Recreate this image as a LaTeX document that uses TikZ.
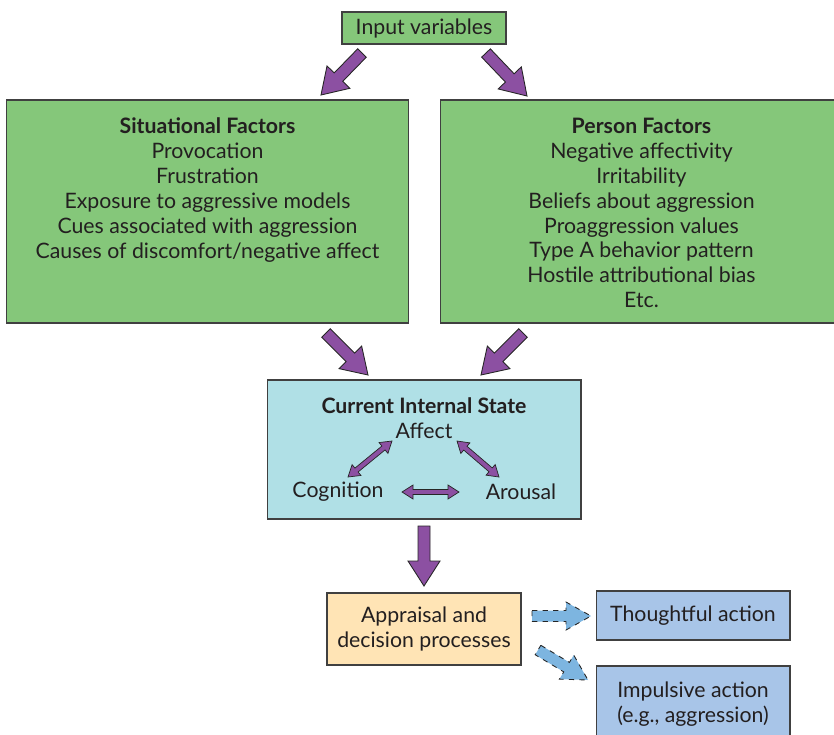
\documentclass[tikz,border=0pt]{standalone}
\usepackage{fontspec}
\setmainfont{Lato}
\usepackage{xcolor}
\usetikzlibrary{calc, positioning}

\definecolor{boxgreen}{RGB}{133,199,122}
\definecolor{statecyan}{RGB}{176,224,230}
\definecolor{appraisalpeach}{RGB}{255,228,181}
\definecolor{actionblue}{RGB}{168,197,232}
\definecolor{arrowpurple}{RGB}{140,80,162}
\definecolor{arrowblue}{RGB}{125,181,224}
\definecolor{inkgray}{RGB}{35,31,32}

% block arrow from #2 to #3, its sizes come from the style in #1
\newcommand{\fatarrow}[3][bigarrow]{%
  \draw[#1] ($(#2)!\aw!90:(#3)$)
    -- ($(#3)!\ahl!(#2)!\aw!-90:(#2)$)
    -- ($(#3)!\ahl!(#2)!\ahw!-90:(#2)$)
    -- (#3)
    -- ($(#3)!\ahl!(#2)!\ahw!90:(#2)$)
    -- ($(#3)!\ahl!(#2)!\aw!90:(#2)$)
    -- ($(#2)!\aw!-90:(#3)$) -- cycle;}
% same, with a head at both ends
\newcommand{\fatdblarrow}[3][smallarrow]{%
  \draw[#1] (#2)
    -- ($(#2)!\ahl!(#3)!\ahw!90:(#3)$)
    -- ($(#2)!\ahl!(#3)!\aw!90:(#3)$)
    -- ($(#3)!\ahl!(#2)!\aw!-90:(#2)$)
    -- ($(#3)!\ahl!(#2)!\ahw!-90:(#2)$)
    -- (#3)
    -- ($(#3)!\ahl!(#2)!\ahw!90:(#2)$)
    -- ($(#3)!\ahl!(#2)!\aw!90:(#2)$)
    -- ($(#2)!\ahl!(#3)!\aw!-90:(#3)$)
    -- ($(#2)!\ahl!(#3)!\ahw!-90:(#3)$) -- cycle;}

\tikzset{
  every node/.style={text=inkgray, font=\fontsize{12.1}{14.2}\selectfont},
  framebox/.style={draw=black!75, line width=0.6pt, inner sep=0pt},
  greenbox/.style={framebox, fill=boxgreen},
  boxtext/.style={align=center, inner sep=0pt},
  bigarrow/.style={draw=black!85, line width=0.5pt, fill=arrowpurple, line join=miter,
    /utils/exec={\def\aw{0.12cm}\def\ahw{0.32cm}\def\ahl{0.5cm}}},
  smallarrow/.style={draw=black!85, line width=0.4pt, fill=arrowpurple,
    /utils/exec={\def\aw{0.05cm}\def\ahw{0.14cm}\def\ahl{0.22cm}}},
  dasharrow/.style={draw=black!85, line width=0.5pt, dashed, fill=arrowblue,
    /utils/exec={\def\aw{0.11cm}\def\ahw{0.28cm}\def\ahl{0.5cm}}},
}

\begin{document}
\begin{tikzpicture}[x=0.02cm, y=-0.02cm]
  \useasboundingbox (0,0) rectangle (834,734);

  % boxes
  \node[greenbox, minimum width=3.28cm, minimum height=0.64cm] (input) at (424,28) {Input variables};
  \node[greenbox, minimum width=8.06cm, minimum height=4.46cm] (situational) at (207.5,211.5) {};
  \node[greenbox, minimum width=8.06cm, minimum height=4.46cm] (person) at (641.5,211.5) {};
  \node[boxtext, below=0.36cm of situational.north] (situationaltext) {\textbf{Situational Factors}\\
    Provocation\\ Frustration\\ Exposure to aggressive models\\
    Cues associated with aggression\\ Causes of discomfort/negative affect};
  \node[boxtext, below=0.36cm of person.north] (persontext) {\textbf{Person Factors}\\
    Negative affectivity\\ Irritability\\ Beliefs about aggression\\
    Proaggression values\\ Type A behavior pattern\\ Hostile attributional bias\\ Etc.};

  \node[framebox, fill=statecyan, minimum width=6.28cm, minimum height=2.78cm] (state) at (424,449.5) {};
  \node (statetitle) at (424,406) {\textbf{Current Internal State}};
  \node (affect) at (424,431) {Affect};
  \node (cognition) at (338,492) {Cognition};
  \node (arousal) at (521,492) {Arousal};

  \node[framebox, fill=appraisalpeach, align=center, minimum width=3.88cm, minimum height=1.44cm] (appraisal) at (424,629) {Appraisal and\\ decision processes};
  \node[framebox, fill=actionblue, minimum width=3.88cm, minimum height=0.98cm] (thoughtful) at (693,615.5) {Thoughtful action};
  \node[framebox, fill=actionblue, align=center, minimum width=3.88cm, minimum height=1.52cm] (impulsive) at (693,704) {Impulsive action\\ (e.g., aggression)};

  % arrow ends
  \coordinate (in2sit) at (362,53);
  \coordinate (sittip) at (321,95);
  \coordinate (in2per) at (486,53);
  \coordinate (pertip) at (527,96);
  \coordinate (sit2st) at (326,333);
  \coordinate (sittst) at (368,375);
  \coordinate (per2st) at (523,333);
  \coordinate (pertst) at (481,375);
  \coordinate (st2app) at (424,526);
  \coordinate (apptip) at (424,586);
  \coordinate (cogend) at (348,477);
  \coordinate (affcog) at (392,441);
  \coordinate (affaro) at (457,441);
  \coordinate (aroend) at (499,477);
  \coordinate (cogaro) at (402,492);
  \coordinate (arocog) at (459,492);
  \coordinate (app2th) at (532,616);
  \coordinate (thtip) at (591,616);
  \coordinate (app2im) at (538,650);
  \coordinate (imtip) at (588,680);

  \fatarrow{in2sit}{sittip}
  \fatarrow{in2per}{pertip}
  \fatarrow{sit2st}{sittst}
  \fatarrow{per2st}{pertst}
  \fatarrow{st2app}{apptip}
  \fatdblarrow{cogend}{affcog}
  \fatdblarrow{affaro}{aroend}
  \fatdblarrow{cogaro}{arocog}
  \fatarrow[dasharrow]{app2th}{thtip}
  \fatarrow[dasharrow]{app2im}{imtip}
\end{tikzpicture}
\end{document}
